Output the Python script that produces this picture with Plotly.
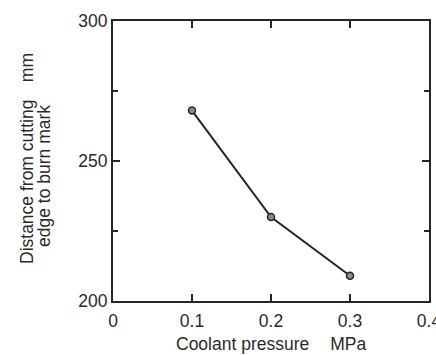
import plotly.graph_objects as go

pressure = [0.1, 0.2, 0.3]
distance = [268, 230, 209]

x_ticks = [0, 0.1, 0.2, 0.3, 0.4]
x_labels = ["0", "0.1", "0.2", "0.3", "0.4"]
y_ticks = [200, 250, 300]
y_labels = ["200", "250", "300"]
y_minor = [225, 275]

W, H = 436, 355
L, R, T, B = 113, 7, 21, 54

def px_to_paper_x(px):
    return (px - L) / (W - L - R)

def py_to_paper_y(py):
    return (H - B - py) / (H - T - B)

fig = go.Figure()
fig.add_trace(go.Scatter(
    x=pressure, y=distance, mode="lines+markers",
    line=dict(color="#262626", width=2),
    marker=dict(size=7, color="#8a8a8a", line=dict(color="#262626", width=1.5)),
    showlegend=False, cliponaxis=False,
))

font = dict(family="Liberation Sans, Arial, sans-serif", size=17.5, color="#2a2a2a")
axis_common = dict(
    showline=True, linecolor="#262626", linewidth=2, mirror="allticks",
    ticks="inside", ticklen=7, tickcolor="#262626", tickwidth=1.5,
    showgrid=False, zeroline=False, automargin=False,
)

fig.update_layout(
    width=W, height=H,
    margin=dict(l=L, r=R, t=T, b=B, autoexpand=False),
    paper_bgcolor="white", plot_bgcolor="white",
    font=font,
    xaxis=dict(range=[0, 0.4], tickvals=x_ticks, ticktext=x_labels,
               ticklabelstandoff=3, ticklabeloverflow="allow", **axis_common),
    yaxis=dict(range=[200, 300], tickvals=y_ticks, ticktext=y_labels,
               minor=dict(tickvals=y_minor, ticks="inside", ticklen=5,
                          tickcolor="#262626", tickwidth=1.5),
               **axis_common),
)

fig.add_annotation(
    text="Distance from cutting\u2003mm",
    xref="paper", yref="paper", x=px_to_paper_x(27), y=py_to_paper_y(159),
    textangle=-90, showarrow=False, xanchor="center", yanchor="middle",
)
fig.add_annotation(
    text="edge to burn mark",
    xref="paper", yref="paper", x=px_to_paper_x(44), y=py_to_paper_y(176),
    textangle=-90, showarrow=False, xanchor="center", yanchor="middle",
)
fig.add_annotation(
    text="Coolant pressure\u2003\u2009MPa",
    xref="paper", yref="paper", x=px_to_paper_x(271), y=py_to_paper_y(344),
    showarrow=False, xanchor="center", yanchor="middle",
)

fig.write_html(
    "out.html",
    config={"displayModeBar": False},
    post_script="document.body.style.margin='0';document.body.style.overflow='hidden';",
)
